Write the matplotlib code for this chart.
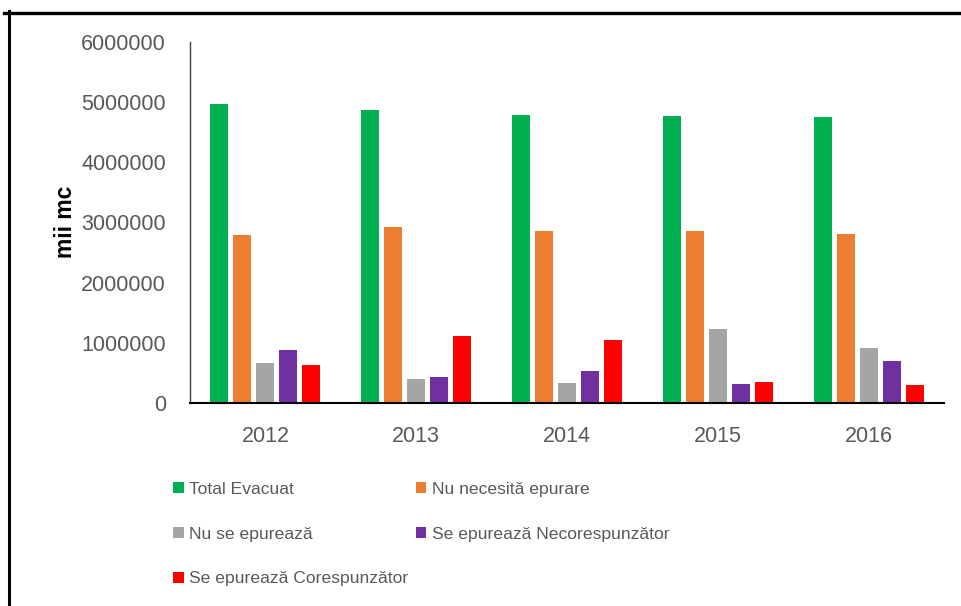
import matplotlib
matplotlib.use('Agg')
import matplotlib.pyplot as plt
import numpy as np
from matplotlib.lines import Line2D
from matplotlib.patches import Patch

plt.rcParams['font.family'] = ['Liberation Sans', 'DejaVu Sans']

YEARS = ['2012', '2013', '2014', '2015', '2016']
SERIES = ['Total Evacuat', 'Nu necesită epurare', 'Nu se epurează',
          'Se epurează Necorespunzător', 'Se epurează Corespunzător']
TOTAL_EVACUAT = [4975000, 4876000, 4793000, 4770000, 4748000]
NU_NECESITA = [2787000, 2920000, 2853000, 2853000, 2815000]
NU_SE_EPUREAZA = [660000, 405000, 339000, 1236000, 920000]
SE_EPUREAZA_NECORESP = [876000, 427000, 538000, 322000, 705000]
SE_EPUREAZA_CORESP = [638000, 1108000, 1042000, 344000, 300000]
YTICKS = [0, 1000000, 2000000, 3000000, 4000000, 5000000, 6000000]

COLORS = ['#00B050', '#ED7D31', '#A5A5A5', '#7030A0', '#FF0000']
TEXT_GREY = '#595959'

values = [TOTAL_EVACUAT, NU_NECESITA, NU_SE_EPUREAZA,
          SE_EPUREAZA_NECORESP, SE_EPUREAZA_CORESP]

W, H = 961, 606
fig = plt.figure(figsize=(W / 100, H / 100), dpi=100)
ax = fig.add_axes([190 / W, 1 - 403 / H, (944 - 190) / W, (403 - 42) / H])

x = np.arange(len(YEARS))
step = 0.1525
width = 0.12
for i, (vals, col) in enumerate(zip(values, COLORS)):
    ax.bar(x + (i - 2) * step, vals, width=width, color=col, zorder=2)

ax.set_xlim(-0.5, len(YEARS) - 0.5)
ax.set_ylim(0, 6000000)
ax.set_yticks(YTICKS)
ax.set_yticklabels([str(v) for v in YTICKS])
ax.set_xticks(x)
ax.set_xticklabels(YEARS)
ax.tick_params(axis='both', length=0, labelsize=15.5, colors=TEXT_GREY)
ax.tick_params(axis='y', pad=17.3)
ax.tick_params(axis='x', pad=16.5)

for s in ['top', 'right']:
    ax.spines[s].set_visible(False)
ax.spines['left'].set_color('#404040')
ax.spines['left'].set_linewidth(1.0)
ax.spines['bottom'].set_color('black')
ax.spines['bottom'].set_linewidth(1.5)

fig.text(65 / W, 1 - 222 / H, 'mii mc', rotation=90, ha='center', va='center',
         fontsize=16.5, fontweight='bold', color='black')

# legend filled row-wise like the original
handles = [Patch(facecolor=c) for c in COLORS]
order = [0, 2, 4, 1, 3]
leg = fig.legend([handles[i] for i in order], [SERIES[i] for i in order],
                 ncol=2, loc='upper left', bbox_to_anchor=(173 / W, 1 - 482 / H),
                 frameon=False, fontsize=12.6, handlelength=0.6, handleheight=0.6,
                 handletextpad=0.3, labelspacing=1.7, columnspacing=0.45,
                 borderaxespad=0, borderpad=0)
for t in leg.get_texts():
    t.set_color(TEXT_GREY)

# outer frame (left and top edges visible)
fig.add_artist(Line2D([9 / W, 9 / W], [0, 1 - 11 / H], color='black', linewidth=2.2))
fig.add_artist(Line2D([4 / W, 1], [1 - 12.5 / H, 1 - 12.5 / H], color='black', linewidth=2.4))

fig.savefig('out.png', dpi=100)
